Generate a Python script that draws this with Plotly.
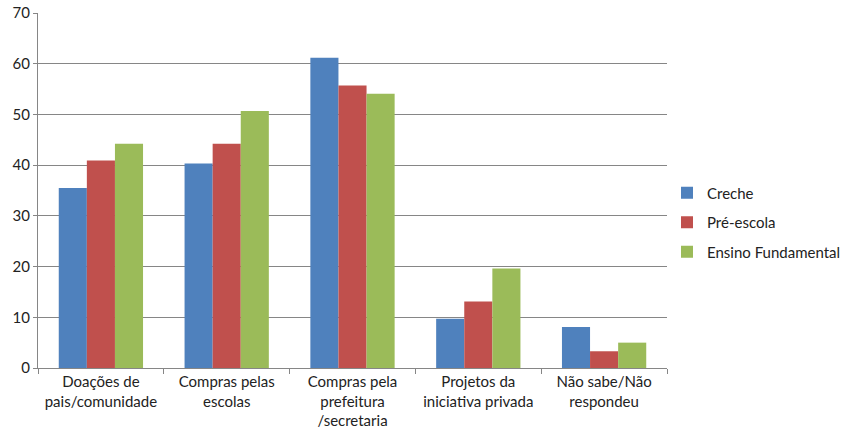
import plotly.graph_objects as go

categories = ["Doações de<br>pais/comunidade", "Compras pelas<br>escolas",
              "Compras pela<br>prefeitura<br>/secretaria", "Projetos da<br>iniciativa privada",
              "Não sabe/Não<br>respondeu"]
creche = [35.5, 40.3, 61.2, 9.7, 8.1]
pre_escola = [40.9, 44.2, 55.7, 13.1, 3.3]
ensino_fund = [44.2, 50.7, 54.1, 19.6, 5.0]
series_names = ["Creche", "Pré-escola", "Ensino Fundamental"]
colors = ["#4F81BD", "#C0504D", "#9BBB59"]

fig = go.Figure()
for name, vals, c in zip(series_names, [creche, pre_escola, ensino_fund], colors):
    fig.add_trace(go.Bar(x=categories, y=vals, name=name, marker_color=c,
                         marker_line_width=0, legendgroup=name))

font = dict(family="Lato, Calibri, sans-serif", size=15, color="#222222")
fig.update_layout(
    width=860, height=441,
    margin=dict(l=38, r=193, t=13, b=73),
    paper_bgcolor="white", plot_bgcolor="white",
    barmode="group", bargap=0.33, bargroupgap=0,
    font=font,
    showlegend=True,
    legend=dict(x=1.0, y=0.41, xanchor="left", yanchor="middle",
                font=font, tracegroupgap=7, itemwidth=30,
                bgcolor="rgba(0,0,0,0)"),
    xaxis=dict(showline=True, linecolor="#868686", linewidth=1,
               ticks="outside", tickson="boundaries", ticklen=5, tickcolor="#868686",
               tickfont=font, tickangle=0, showgrid=False, fixedrange=True,
               automargin=False),
    yaxis=dict(range=[0, 70], dtick=10, showline=True, linecolor="#868686", linewidth=1,
               gridcolor="#868686", gridwidth=1, ticks="outside", ticklen=4,
               tickcolor="#868686", tickfont=font, zeroline=False, automargin=False),
)
fig.write_html("out.html", config={"displayModeBar": False},
               post_script="document.body.style.margin='0';document.body.style.overflow='hidden';")
